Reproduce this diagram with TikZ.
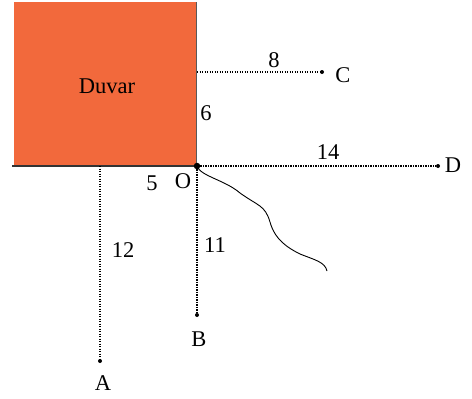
\documentclass[tikz,border=0pt]{standalone}
\usepackage{fontspec}
\setmainfont{Liberation Serif}
\definecolor{wall}{HTML}{F2693C}
\begin{document}
\begin{tikzpicture}[x=1pt,y=-1pt,
  lbl/.style={inner sep=0pt,font=\fontsize{22.5}{24}\selectfont},
  dots/.style={dash pattern=on 1.1pt off 1.4pt,line width=1.1pt},
  pt/.style={circle,fill=black,inner sep=0pt,minimum size=4pt}]
\useasboundingbox (0,0) rectangle (472,399);
\fill[wall] (14,2) rectangle (196,166);
\draw[gray!70!black,line width=1pt] (196,2) -- (196,166);
\draw[black!80,line width=1.2pt] (12,166) -- (196,166);
\node[lbl] (duvar) at (107,86) {Duvar};
\node[circle,fill=black,inner sep=0pt,minimum size=6.5pt] (O) at (197,166) {};
\coordinate (Ac) at (100,166);
\node[pt] (C) at (322,72) {};
\node[pt] (D) at (438,166) {};
\node[pt] (A) at (100,361) {};
\node[pt] (B) at (197,315) {};
\coordinate (Cs) at (197,72);
\draw[dots] (Cs) -- (C);
\draw[dots] (O) -- (D);
\draw[dots] (Ac) -- (A);
\draw[dots] (O) -- (B);
\node[lbl] at (343,75) {C};
\node[lbl] at (453,165) {D};
\node[lbl] at (103,383) {A};
\node[lbl] at (199,339) {B};
\node[lbl] at (183,181) {O};
\node[lbl] at (152,183) {5};
\node[lbl] at (206,113) {6};
\node[lbl] at (274,60) {8};
\node[lbl] at (328,152) {14};
\node[lbl] at (123,250) {12};
\node[lbl] at (215,245) {11};
\draw[line width=0.9pt] (O.center) .. controls (200,176) and (225,180) .. (240,193)
  .. controls (258,206) and (265,205) .. (270,222)
  .. controls (275,240) and (288,248) .. (300,254)
  .. controls (315,260) and (325,262) .. (327,271);
\end{tikzpicture}
\end{document}
